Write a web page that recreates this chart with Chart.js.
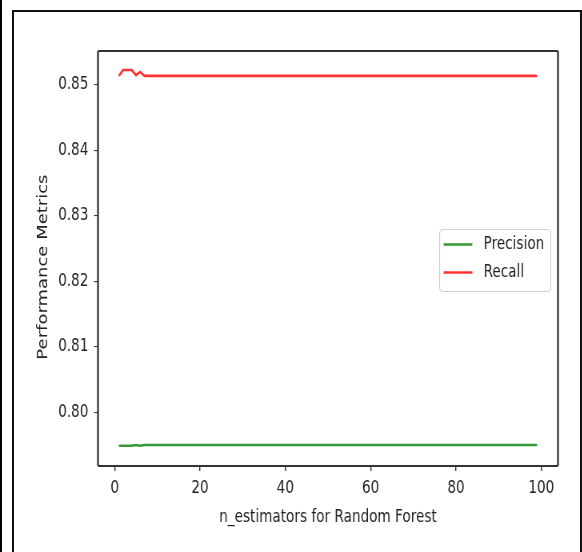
<!DOCTYPE html>
<html>
<head>
<meta charset="utf-8">
<script src="https://cdn.jsdelivr.net/npm/chart.js@4.4.1/dist/chart.umd.min.js"></script>
<style>
  html, body { margin: 0; padding: 0; background: #fff; }
  body { width: 582px; height: 552px; position: relative; overflow: hidden; }
  #edge { position: absolute; left: 0; top: 0; width: 2px; height: 552px; background: #000; }
  #frame { position: absolute; left: 12px; top: 10px; width: 566px; height: 600px;
           border: 2px solid #111; border-bottom: none; }
  /* the picture is squashed horizontally, so draw wider and scale down */
  #wrap { position: absolute; left: 0; top: 0; width: 728px; height: 552px;
          transform: scaleX(0.8); transform-origin: 0 0; }
</style>
</head>
<body>
<div id="edge"></div>
<div id="frame"></div>
<div id="wrap"><canvas id="chart" width="728" height="552"></canvas></div>

<script>
/* ====== DATA ====== */
const nEstimators = [
   1,  2,  3,  4,  5,  6,  7,  8,  9, 10, 11, 12, 13, 14, 15, 16, 17, 18, 19, 20,
  21, 22, 23, 24, 25, 26, 27, 28, 29, 30, 31, 32, 33, 34, 35, 36, 37, 38, 39, 40,
  41, 42, 43, 44, 45, 46, 47, 48, 49, 50, 51, 52, 53, 54, 55, 56, 57, 58, 59, 60,
  61, 62, 63, 64, 65, 66, 67, 68, 69, 70, 71, 72, 73, 74, 75, 76, 77, 78, 79, 80,
  81, 82, 83, 84, 85, 86, 87, 88, 89, 90, 91, 92, 93, 94, 95, 96, 97, 98, 99
];

const precision = [
  0.7949, 0.7949, 0.7949, 0.7949, 0.7950, 0.7949, 0.7950, 0.7950, 0.7950, 0.7950,
  0.7950, 0.7950, 0.7950, 0.7950, 0.7950, 0.7950, 0.7950, 0.7950, 0.7950, 0.7950,
  0.7950, 0.7950, 0.7950, 0.7950, 0.7950, 0.7950, 0.7950, 0.7950, 0.7950, 0.7950,
  0.7950, 0.7950, 0.7950, 0.7950, 0.7950, 0.7950, 0.7950, 0.7950, 0.7950, 0.7950,
  0.7950, 0.7950, 0.7950, 0.7950, 0.7950, 0.7950, 0.7950, 0.7950, 0.7950, 0.7950,
  0.7950, 0.7950, 0.7950, 0.7950, 0.7950, 0.7950, 0.7950, 0.7950, 0.7950, 0.7950,
  0.7950, 0.7950, 0.7950, 0.7950, 0.7950, 0.7950, 0.7950, 0.7950, 0.7950, 0.7950,
  0.7950, 0.7950, 0.7950, 0.7950, 0.7950, 0.7950, 0.7950, 0.7950, 0.7950, 0.7950,
  0.7950, 0.7950, 0.7950, 0.7950, 0.7950, 0.7950, 0.7950, 0.7950, 0.7950, 0.7950,
  0.7950, 0.7950, 0.7950, 0.7950, 0.7950, 0.7950, 0.7950, 0.7950, 0.7950
];

const recall = [
  0.8514, 0.8523, 0.8523, 0.8523, 0.8515, 0.8520, 0.8514, 0.8514, 0.8514, 0.8514,
  0.8514, 0.8514, 0.8514, 0.8514, 0.8514, 0.8514, 0.8514, 0.8514, 0.8514, 0.8514,
  0.8514, 0.8514, 0.8514, 0.8514, 0.8514, 0.8514, 0.8514, 0.8514, 0.8514, 0.8514,
  0.8514, 0.8514, 0.8514, 0.8514, 0.8514, 0.8514, 0.8514, 0.8514, 0.8514, 0.8514,
  0.8514, 0.8514, 0.8514, 0.8514, 0.8514, 0.8514, 0.8514, 0.8514, 0.8514, 0.8514,
  0.8514, 0.8514, 0.8514, 0.8514, 0.8514, 0.8514, 0.8514, 0.8514, 0.8514, 0.8514,
  0.8514, 0.8514, 0.8514, 0.8514, 0.8514, 0.8514, 0.8514, 0.8514, 0.8514, 0.8514,
  0.8514, 0.8514, 0.8514, 0.8514, 0.8514, 0.8514, 0.8514, 0.8514, 0.8514, 0.8514,
  0.8514, 0.8514, 0.8514, 0.8514, 0.8514, 0.8514, 0.8514, 0.8514, 0.8514, 0.8514,
  0.8514, 0.8514, 0.8514, 0.8514, 0.8514, 0.8514, 0.8514, 0.8514, 0.8514
];

const xTicks = [0, 20, 40, 60, 80, 100];
const yTicks = [0.80, 0.81, 0.82, 0.83, 0.84, 0.85];

/* ====== STYLE ====== */
const FONT = { family: "'DejaVu Sans', sans-serif", size: 17 };
const TEXT = "#222";
const AXIS = "#333";

/* ====== PLUGIN: box around plot + matplotlib-like legend ====== */
const frameAndLegend = {
  id: "frameAndLegend",
  afterDraw(chart) {
    const { ctx, chartArea: a } = chart;
    ctx.save();

    // plot frame (vertical lines a bit thicker, they get squashed)
    ctx.strokeStyle = AXIS;
    ctx.lineWidth = 1.8;
    ctx.beginPath();
    ctx.moveTo(a.left, a.top); ctx.lineTo(a.right, a.top);
    ctx.moveTo(a.left, a.bottom); ctx.lineTo(a.right, a.bottom);
    ctx.stroke();
    ctx.lineWidth = 2.3;
    ctx.beginPath();
    ctx.moveTo(a.left, a.top); ctx.lineTo(a.left, a.bottom);
    ctx.moveTo(a.right, a.top); ctx.lineTo(a.right, a.bottom);
    ctx.stroke();

    // legend, centre right
    const boxW = 139, boxH = 62;
    const bx = a.right - 9 - boxW;
    const by = (a.top + a.bottom) / 2 - boxH / 2 + 2;
    ctx.beginPath();
    ctx.roundRect(bx, by, boxW, boxH, 4);
    ctx.fillStyle = "rgba(255,255,255,0.8)";
    ctx.fill();
    ctx.strokeStyle = "#d0d0d0";
    ctx.lineWidth = 1.2;
    ctx.stroke();

    ctx.font = FONT.size + "px " + FONT.family;
    ctx.textBaseline = "middle";
    ctx.textAlign = "left";
    chart.data.datasets.forEach((ds, i) => {
      const y = by + 15 + i * 28;
      ctx.strokeStyle = ds.borderColor;
      ctx.lineWidth = ds.borderWidth;
      ctx.beginPath();
      ctx.moveTo(bx + 5, y);
      ctx.lineTo(bx + 41, y);
      ctx.stroke();
      ctx.fillStyle = TEXT;
      ctx.fillText(ds.label, bx + 55, y);
    });
    ctx.restore();
  }
};

/* ====== CHART ====== */
const ctx = document.getElementById("chart").getContext("2d");

new Chart(ctx, {
  type: "line",
  data: {
    datasets: [
      {
        label: "Precision",
        data: nEstimators.map((n, i) => ({ x: n, y: precision[i] })),
        borderColor: "rgba(0,128,0,0.8)",
        borderWidth: 2.6,
        pointRadius: 0,
        tension: 0
      },
      {
        label: "Recall",
        data: nEstimators.map((n, i) => ({ x: n, y: recall[i] })),
        borderColor: "rgba(255,0,0,0.8)",
        borderWidth: 2.6,
        pointRadius: 0,
        tension: 0
      }
    ]
  },
  options: {
    responsive: false,
    animation: false,
    layout: { padding: { left: 0, top: 51, right: 30.5, bottom: 0 } },
    plugins: {
      legend: { display: false },
      tooltip: { enabled: false }
    },
    scales: {
      x: {
        type: "linear",
        min: -3.9,
        max: 103.9,
        afterBuildTicks: s => { s.ticks = xTicks.map(v => ({ value: v })); },
        afterFit: s => { s.height = 86; },
        ticks: { font: FONT, color: TEXT, padding: 7, maxRotation: 0, autoSkip: false },
        grid: { drawOnChartArea: false, tickLength: 5, color: AXIS, lineWidth: 1.4 },
        border: { display: false },
        title: {
          display: true,
          text: "n_estimators for Random Forest",
          font: FONT,
          color: TEXT,
          padding: { top: 0, bottom: 24 }
        }
      },
      y: {
        type: "linear",
        min: 0.7918,
        max: 0.8552,
        afterBuildTicks: s => { s.ticks = yTicks.map(v => ({ value: v })); },
        afterFit: s => { s.width = 122.5; },
        ticks: {
          font: FONT, color: TEXT, padding: 7, autoSkip: false,
          callback: v => v.toFixed(2)
        },
        grid: { drawOnChartArea: false, tickLength: 5, color: AXIS, lineWidth: 1.1 },
        border: { display: false },
        title: {
          display: true,
          // trailing spaces nudge the centred label down a little, like the picture
          text: "Performance Metrics   ",
          font: { family: FONT.family, size: 18 },
          color: TEXT,
          padding: { top: 43.6, bottom: 0 }
        }
      }
    }
  },
  plugins: [frameAndLegend]
});
</script>
</body>
</html>
